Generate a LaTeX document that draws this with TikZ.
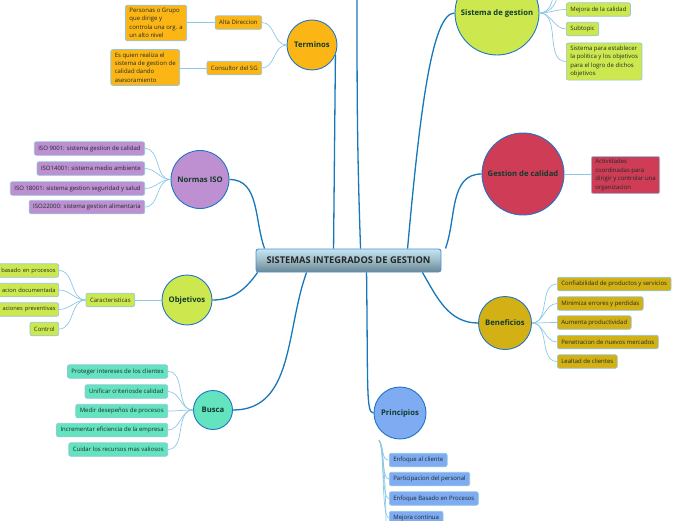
\documentclass[tikz,border=0pt]{standalone}
\usepackage{fontspec}
\setmainfont{Open Sans}
\usetikzlibrary{calc}
\definecolor{cOrange}{HTML}{FBB615}
\definecolor{cLime}{HTML}{CDE84E}
\definecolor{cRed}{HTML}{CE3C56}
\definecolor{cGold}{HTML}{D3B115}
\definecolor{cBlue}{HTML}{7EABF2}
\definecolor{cMint}{HTML}{63E3BE}
\definecolor{cPurple}{HTML}{BE8FD1}
\definecolor{cRim}{HTML}{1F74C8}
\definecolor{cLeafRim}{HTML}{93C6DE}
\definecolor{cTrunk}{HTML}{1677BA}
\definecolor{cTwig}{HTML}{8DC8E6}
\definecolor{cTopicTxt}{HTML}{103A2B}
\definecolor{cText}{HTML}{1E2A2A}
\definecolor{cHeadTop}{HTML}{C4E5F1}
\definecolor{cHeadBot}{HTML}{6A8793}

\begin{document}
\begin{tikzpicture}[x=1pt,y=-1pt,
    every node/.style={font=\fontsize{6}{8.4}\selectfont,text=cText},
    topic/.style={circle,draw=cRim,line width=0.9pt,inner sep=0pt,font=\fontsize{7.7}{9}\selectfont\bfseries,text=cTopicTxt},
    leaf/.style={draw=cLeafRim,line width=0.7pt,rounded corners=2pt,inner xsep=4pt,inner ysep=3pt,minimum height=13.5pt,align=left},
    cut/.style={leaf,inner xsep=3pt,text width=70pt,align=right,font=\fontsize{5.75}{8.4}\selectfont},
    headbox/.style={draw=cRim!80,line width=0.9pt,rounded corners=2.5pt,top color=cHeadTop,bottom color=cHeadBot,middle color=cHeadTop!55!cHeadBot,minimum width=185pt,minimum height=23pt,font=\fontsize{9.3}{11}\selectfont\bfseries,text=black!85},
    trunk/.style={draw=cTrunk,line width=1.3pt},
    twig/.style={draw=cTwig,line width=0.7pt}]

    \useasboundingbox (0,0) rectangle (696,520);

    % centre
    \node[headbox] (sig) at (348.5,260.5) {SISTEMAS INTEGRADOS DE GESTION};

    % Terminos
    \node[topic,fill=cOrange,minimum size=50pt] (term) at (312,45) {Terminos};
    \node[leaf,fill=cOrange,anchor=east] (alta) at (262,22.5) {Alta Direccion};
    \node[leaf,fill=cOrange,anchor=east] (cons) at (262,68) {Consultor del SG};
    \node[leaf,fill=cOrange,anchor=east] (pers) at (187,23) {Personas o Grupo\\que dirige y\\controla una org. a\\un alto nivel};
    \node[leaf,fill=cOrange,anchor=east] (quien) at (180,67.5) {Es quien realiza el\\sistema de gestion de\\calidad dando\\asesoramiento};

    % Normas ISO
    \node[topic,fill=cPurple,minimum size=58pt] (iso) at (200,179.5) {Normas ISO};
    \node[leaf,fill=cPurple,anchor=east] (iso1) at (145,148.5) {ISO 9001: sistema gestion de calidad};
    \node[leaf,fill=cPurple,anchor=east] (iso2) at (145,168.5) {ISO14001: sistema medio ambiente};
    \node[leaf,fill=cPurple,anchor=east] (iso3) at (145,188.5) {ISO 18001: sistema gestion seguridad y salud};
    \node[leaf,fill=cPurple,anchor=east] (iso4) at (145,207) {ISO22000: sistema gestion alimentaria};

    % Objetivos
    \node[topic,fill=cLime,minimum size=50pt] (obj) at (187,300) {Objetivos};
    \node[leaf,fill=cLime,anchor=east] (carac) at (135,300) {Caracteristicas};
    \node[cut,fill=cLime,anchor=east] (car1) at (59,270.5) {basado en procesos};
    \node[cut,fill=cLime,anchor=east] (car2) at (59,290) {acion documentada};
    \node[cut,fill=cLime,anchor=east] (car3) at (59,309.5) {aciones preventivas};
    \node[leaf,fill=cLime,anchor=east] (car4) at (59,329) {Control};

    % Busca
    \node[topic,fill=cMint,minimum size=39pt] (busca) at (213,410) {Busca};
    \node[leaf,fill=cMint,anchor=east] (bus1) at (168,371.5) {Proteger intereses de los clientes};
    \node[leaf,fill=cMint,anchor=east] (bus2) at (168,391.5) {Unificar criteriosde calidad};
    \node[leaf,fill=cMint,anchor=east] (bus3) at (168,411) {Medir desepeños de procesos};
    \node[leaf,fill=cMint,anchor=east] (bus4) at (168,430) {Incrementar eficiencia de la empresa};
    \node[leaf,fill=cMint,anchor=east] (bus5) at (168,449.5) {Cuidar los recursos mas valiosos};

    % Sistema de gestion
    \node[topic,fill=cLime,minimum size=84pt] (sgest) at (497,13) {Sistema de gestion};
    \node[leaf,fill=cLime,anchor=west] (sg1) at (566,9.5) {Mejora de la calidad};
    \node[leaf,fill=cLime,anchor=west] (sg2) at (566,29) {Subtopic};
    \node[leaf,fill=cLime,anchor=west] (sg3) at (566,61.5) {Sistema para establecer\\la politica y los objetivos\\para el logro de dichos\\objetivos};

    % Gestion de calidad
    \node[topic,fill=cRed,minimum size=82pt] (gcal) at (523,174) {Gestion de calidad};
    \node[leaf,fill=cRed,anchor=west] (gc1) at (591,175) {Actividades\\coordinadas para\\dirigir y controlar una\\organizacion};

    % Beneficios
    \node[topic,fill=cGold,minimum size=53pt] (bene) at (505,323) {Beneficios};
    \node[leaf,fill=cGold,anchor=west] (ben1) at (557,284) {Confiabilidad de productos y servicios};
    \node[leaf,fill=cGold,anchor=west] (ben2) at (557,303.5) {Minimiza errores y perdidas};
    \node[leaf,fill=cGold,anchor=west] (ben3) at (557,322.5) {Aumenta productividad};
    \node[leaf,fill=cGold,anchor=west] (ben4) at (557,342) {Penetracion de nuevos mercados};
    \node[leaf,fill=cGold,anchor=west] (ben5) at (557,361.5) {Lealtad de clientes};

    % Principios
    \node[topic,fill=cBlue,minimum size=52pt] (prin) at (400,413) {Principios};
    \node[leaf,fill=cBlue,anchor=west] (pr1) at (389,460) {Enfoque al cliente};
    \node[leaf,fill=cBlue,anchor=west] (pr2) at (389,479) {Participacion del personal};
    \node[leaf,fill=cBlue,anchor=west] (pr3) at (389,498.5) {Enfoque Basado en Procesos};
    \node[leaf,fill=cBlue,anchor=west] (pr4) at (389,518) {Mejora continua};

    % loose ends
    \coordinate (top) at (357,-3);
    \coordinate (sgup1) at (553,-3);
    \coordinate (sgup2) at (557,-3);
    \coordinate (pk) at (379,440);
    \coordinate (pmore) at (386,530);

    % trunk lines
    \draw[trunk] ($(sig.north west)+(9,0)$) to[out=110,in=0] (iso.east);
    \draw[trunk] ($(sig.north west)+(78,0)$) -- (term.-23);
    \draw[trunk] ($(sig.north west)+(105,0)$) to[out=92,in=-90] (top);
    \draw[trunk] ($(sig.north west)+(152,0)$) .. controls (420,110) and (432,13) .. (sgest.west);
    \draw[trunk] ($(sig.north east)+(4,0)$) to[out=70,in=180] (gcal.west);
    \draw[trunk] ($(sig.south west)+(2,0)$) to[out=-125,in=0] (obj.east);
    \draw[trunk] ($(sig.south west)+(51,0)$) to[out=-110,in=0] (busca.east);
    \draw[trunk] ($(sig.south west)+(111,0)$) .. controls (368,390) and (366,413) .. (prin.west);
    \draw[trunk] ($(sig.south east)+(-19,0)$) to[out=-60,in=180] (bene.west);

    % twigs
    \draw[twig] (term.west) to[out=180,in=0] (alta.east);
    \draw[twig] (term.west) to[out=180,in=0] (cons.east);
    \draw[twig] (alta.west) -- (pers.east |- alta.west);
    \draw[twig] (cons.west) -- (quien.east |- cons.west);
    \foreach \n in {iso1,iso2,iso3,iso4}
        \draw[twig] (iso.west) to[out=180,in=0] (\n.east);
    \draw[twig] (obj.west) -- (carac.east);
    \foreach \n in {car1,car2,car3,car4}
        \draw[twig] (carac.west) to[out=180,in=0] (\n.east);
    \foreach \n in {bus1,bus2,bus3,bus4,bus5}
        \draw[twig] (busca.west) to[out=180,in=0] (\n.east);
    \foreach \n in {sg1,sg2,sg3}
        \draw[twig] (sgest.east) to[out=0,in=180] (\n.west);
    \draw[twig] (sgest.east) to[out=0,in=-100] (sgup1);
    \draw[twig] (sgest.east) to[out=0,in=-100] (sgup2);
    \draw[twig] (gcal.east) -- (gc1.west |- gcal.east);
    \foreach \n in {ben1,ben2,ben3,ben4,ben5}
        \draw[twig] (bene.east) to[out=0,in=180] (\n.west);
    \foreach \n in {pr1,pr2,pr3,pr4}
        \draw[twig] (pk) .. controls +(6,10) and +(-8,0) .. (\n.west);
    \draw[twig] (pk) .. controls +(6,10) and +(0,-20) .. (pmore);
\end{tikzpicture}
\end{document}
